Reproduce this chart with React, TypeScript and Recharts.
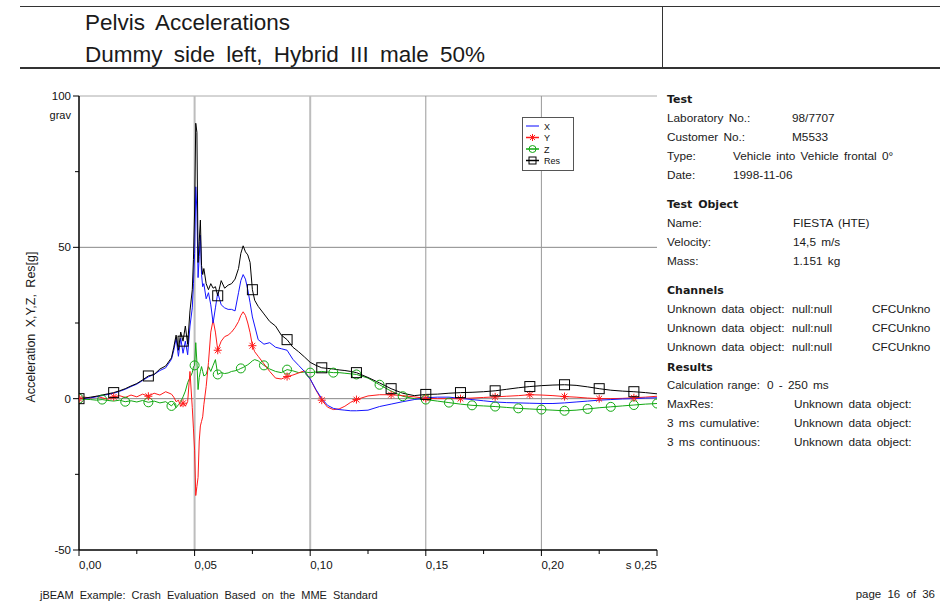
import React from 'react';
import { LineChart, Line, XAxis, YAxis, ReferenceLine, Legend } from 'recharts';

// time base in seconds, finer around the impact spike
const timeS = [
  0, 0.0025, 0.005, 0.0075, 0.01, 0.0125, 0.015, 0.0175, 0.02, 0.0225, 0.025, 0.0275, 0.03, 0.0325, 0.035, 0.0375, 0.04,
  0.041, 0.042, 0.043, 0.044, 0.045, 0.046, 0.047, 0.048, 0.049, 0.0495,
  0.05, 0.0505, 0.051, 0.0515, 0.052, 0.0525, 0.053, 0.0535, 0.054, 0.055,
  0.056, 0.057, 0.058, 0.059, 0.06, 0.0615, 0.063, 0.0645, 0.066, 0.0675,
  0.069, 0.07, 0.071, 0.072, 0.073, 0.074, 0.075, 0.076, 0.0775, 0.08,
  0.0825, 0.085, 0.0875, 0.09, 0.0925, 0.095, 0.0975, 0.1, 0.1025, 0.105,
  0.1075, 0.11, 0.1125, 0.115, 0.1175, 0.12,
  0.125, 0.13, 0.135, 0.14, 0.145, 0.15, 0.155, 0.16, 0.165, 0.17,
  0.175, 0.18, 0.185, 0.19, 0.195, 0.2, 0.205, 0.21, 0.215, 0.22,
  0.225, 0.23, 0.235, 0.24, 0.245, 0.25,
];

const accX = [
  0, 0.1, 0.3, 0.6, 1.0, 1.4, 1.8, 2.4, 3.1, 4.0, 4.8, 6.0, 7.2, 8.0, 9.3, 10.2, 13,
  16, 20, 14, 20, 15, 19, 14.5, 24, 30, 38,
  48, 70, 62, 40, 47, 54, 41, 37, 38, 33,
  35, 31, 25, 30, 35, 31, 30, 29.5, 29.5, 29,
  35, 39, 41, 39.5, 36, 31.7, 27, 24, 19.5, 18,
  18.5, 17, 16.5, 16, 13, 11, 9, 6.5, 3, 0,
  -2.2, -3.2, -3.6, -3.8, -4, -4,
  -3.8, -2.6, -1.8, -1.0, -0.3, 0.3, 0.5, 0.5, 0.1, -0.3,
  -0.7, -1.1, -1.3, -1.4, -1.5, -1.6, -1.6, -1.4, -1.1, -0.8,
  -0.5, -0.3, -0.1, 0, 0.2, 0.3,
];

const accY = [
  0, 0.5, 0.2, 0.8, 0.3, -0.2, 0.6, 1.0, 0.4, 1.2, 0.6, 1.5, 0.8, 1.8, 1.2, 2.3, 1.5,
  0.5, -1, -0.5, -2.6, -1.5, -2.5, -1, 9, -3, -10,
  -17, -32, -29, -26, -14, -9, -7.5, -6, -2, 4,
  12, 22, 26, 22, 16, 19, 20.5, 21, 22, 23.5,
  25.5, 27.5, 28.7, 27.5, 25, 21.8, 17.5, 15.5, 14, 11.5,
  9, 6.8, 6.5, 7.3, 7.8, 8.5, 9.2, 6.5, 2.8, -0.5,
  -2.8, -3.6, -3.4, -2.5, -1.2, -0.3,
  0.9, 1.3, 1.3, 1.0, 0.6, 0.1, 0, 0, 0, 0.2,
  0.4, 0.6, 0.8, 1.0, 1.3, 1.2, 1.0, 0.7, 0.5, 0.2,
  0, 0, 0.1, 0.3, 0.5, 0.8,
];

const accZ = [
  0, -0.2, -0.3, -0.5, -0.3, -0.6, -0.8, -0.5, -1.0, -0.7, -1.1, -0.6, -1.2, -0.8, -1.4, -1.0, -2.4,
  -1.5, -3, -2, -1, 0.6, 2.5, 5.3, 7, 8.6, 10.5,
  11, 18.5, 12, 3, 7, 9, 10.6, 9, 7.5, 8,
  10.6, 9, 11, 12.9, 8, 8.6, 8.3, 8.5, 9, 9.2,
  9.6, 10, 10.3, 10.8, 11.2, 11.8, 12.5, 12.9, 12.5, 11,
  9.8, 9, 8.6, 9.6, 9.2, 8.6, 8.8, 8.6, 8.8, 9.0,
  8.8, 8.6, 8.6, 8.4, 8.2, 8.0,
  6.8, 4.6, 2.5, 0.8, 0, -0.3, -0.8, -1.3, -1.8, -2.2,
  -2.4, -2.6, -2.9, -3.2, -3.4, -3.6, -3.8, -4.0, -3.8, -3.4,
  -3.0, -2.7, -2.4, -2.1, -1.8, -1.6,
];

const accRes = [
  0, 0.2, 0.5, 0.8, 1.2, 1.6, 2.0, 2.6, 3.3, 4.2, 5.0, 6.2, 7.5, 8.0, 9.8, 10.8, 13.5,
  17, 21, 16, 22, 19, 24, 18, 29, 36, 46,
  62, 91, 88, 45, 52, 59, 44, 41, 43, 38,
  36, 38, 36.5, 37, 34, 39, 36.5, 37.5, 38, 39.5,
  43, 48, 50.5, 48.5, 47.5, 45, 36, 32.5, 30.5, 28,
  25.5, 24, 21, 19.5, 17, 15.5, 13.8, 12, 11, 10.2,
  10, 9.8, 9.5, 9.3, 9, 8.6,
  7, 5.2, 3.3, 1.8, 1.0, 1.4, 1.5, 1.8, 2.0, 2.1,
  2.3, 2.6, 3.1, 3.6, 4.0, 4.3, 4.5, 4.6, 4.4, 3.9,
  3.3, 2.8, 2.5, 2.3, 2.0, 1.6,
];

const xTicks = [0, 0.025, 0.05, 0.075, 0.1, 0.125, 0.15, 0.175, 0.2, 0.225, 0.25];
const xLabels = ['0,00', '', '0,05', '', '0,10', '', '0,15', '', '0,20', '', 's 0,25'];
const yTicks = [-50, -25, 0, 25, 50, 75, 100];
const yLabels = ['-50', '', '0', '', '50', '', '100'];

const data = timeS.map((t, i) => ({
  t,
  x: accX[i],
  y: accY[i],
  z: accZ[i],
  res: accRes[i],
}));

const BLUE = '#1515ff';
const RED = '#ff1a1a';
const GREEN = '#12a812';
const BLACK = '#000';
const FONT = '"Liberation Sans", Arial, sans-serif';
const NARROW = '"Liberation Sans Narrow", "Arial Narrow", sans-serif';
const HEAD = '"DejaVu Sans", Verdana, sans-serif';

const onStep = (t: number, step: number) => Math.abs(t / step - Math.round(t / step)) < 1e-6;

function Star({ cx, cy, r = 4, color }: any) {
  const d = r * 0.72;
  return (
    <g stroke={color} strokeWidth={1}>
      <line x1={cx - r} y1={cy} x2={cx + r} y2={cy} />
      <line x1={cx} y1={cy - r} x2={cx} y2={cy + r} />
      <line x1={cx - d} y1={cy - d} x2={cx + d} y2={cy + d} />
      <line x1={cx - d} y1={cy + d} x2={cx + d} y2={cy - d} />
    </g>
  );
}

const markerDot = (kind: string, step: number) => (props: any) => {
  const { cx, cy, payload, index } = props;
  if (cx == null || cy == null || !onStep(payload.t, step)) return <g key={index} />;
  if (kind === 'star') return <g key={index}><Star cx={cx} cy={cy} color={RED} /></g>;
  if (kind === 'circle')
    return <circle key={index} cx={cx} cy={cy} r={4.5} fill="none" stroke={GREEN} strokeWidth={1} />;
  return <rect key={index} x={cx - 5} y={cy - 5} width={10} height={10} fill="none" stroke={BLACK} strokeWidth={1} />;
};

function XTick({ x, y, index }: any) {
  const label = xLabels[index] ?? '';
  const last = index === xTicks.length - 1;
  return (
    <g>
      <line x1={x} x2={x} y1={y} y2={y + (label ? 6 : 4)} stroke="#000" />
      <text x={x} y={y + 19} textAnchor={last ? 'end' : 'start'} fontSize={11.5} fontFamily={FONT} fill="#111">
        {label}
      </text>
    </g>
  );
}

function YTick({ x, y, index }: any) {
  const label = yLabels[index] ?? '';
  return (
    <g>
      <line x1={x - (label ? 6 : 4)} x2={x} y1={y} y2={y} stroke="#000" />
      <text x={x - 8} y={y + 4} textAnchor="end" fontSize={11.5} fontFamily={FONT} fill="#111">
        {label}
      </text>
      {label === '100' && (
        <text x={x - 8} y={y + 23} textAnchor="end" fontSize={11} fontFamily={FONT} fill="#111">
          grav
        </text>
      )}
    </g>
  );
}

function LegendBox() {
  const rows = [
    { name: 'X', color: '#5a5aff', mark: 'line' },
    { name: 'Y', color: RED, mark: 'star' },
    { name: 'Z', color: GREEN, mark: 'circle' },
    { name: 'Res', color: BLACK, mark: 'square' },
  ];
  return (
    <svg width={52} height={54} style={{ display: 'block' }}>
      <rect x={0.5} y={0.5} width={51} height={53} fill="#fff" stroke="#555" />
      {rows.map((r, i) => {
        const cy = 9 + i * 11.5;
        return (
          <g key={r.name}>
            <line x1={4} x2={17} y1={cy} y2={cy} stroke={r.color} strokeWidth={1.5} />
            {r.mark === 'star' && <Star cx={10.5} cy={cy} r={3.5} color={r.color} />}
            {r.mark === 'circle' && <circle cx={10.5} cy={cy} r={3.5} fill="none" stroke={r.color} />}
            {r.mark === 'square' && <rect x={7} y={cy - 3.5} width={7} height={7} fill="none" stroke={r.color} />}
            <text x={22} y={cy + 3.5} fontSize={9} fontFamily={FONT} fill="#111">
              {r.name}
            </text>
          </g>
        );
      })}
    </svg>
  );
}

function T({ x, y, children, size = 11.8, bold = false, family = FONT, ws = 2 }: any) {
  return (
    <div
      style={{
        position: 'absolute',
        left: x,
        top: y,
        transform: 'translateY(-50%)',
        lineHeight: 1,
        whiteSpace: 'pre',
        fontSize: size,
        fontWeight: bold ? 700 : 400,
        fontFamily: family,
        wordSpacing: ws,
        color: '#1a1a1a',
      }}
    >
      {children}
    </div>
  );
}

export default function App() {
  return (
    <div style={{ position: 'absolute', left: 0, top: 0, width: 940, height: 602, background: '#fff', overflow: 'hidden' }}>
      {/* header frame */}
      <div style={{ position: 'absolute', left: 20, top: 6, width: 920, height: 1, background: '#333' }} />
      <div style={{ position: 'absolute', left: 20, top: 67, width: 920, height: 1.5, background: '#333' }} />
      <div style={{ position: 'absolute', left: 662, top: 6, width: 1, height: 62, background: '#333' }} />
      <T x={85} y={23} size={22.5} ws={5}>Pelvis Accelerations</T>
      <T x={85} y={55} size={22.5} ws={5}>Dummy side left, Hybrid III male 50%</T>

      <div style={{ position: 'absolute', left: 0, top: 0 }}>
        <LineChart width={680} height={602} data={data} margin={{ top: 96, right: 23, bottom: 22, left: 19 }}>
          <XAxis
            dataKey="t"
            type="number"
            domain={[0, 0.25]}
            ticks={xTicks}
            interval={0}
            height={30}
            tickSize={0}
            tickMargin={0}
            tickLine={false}
            axisLine={{ stroke: '#000', strokeWidth: 1.5 }}
            tick={<XTick />}
            allowDataOverflow
          />
          <YAxis
            type="number"
            domain={[-50, 100]}
            ticks={yTicks}
            interval={0}
            width={60}
            tickSize={0}
            tickMargin={0}
            tickLine={false}
            axisLine={{ stroke: '#000', strokeWidth: 1.5 }}
            tick={<YTick />}
            allowDataOverflow
          />
          <ReferenceLine y={100} stroke="#aaa" />
          <ReferenceLine y={50} stroke="#888" />
          <ReferenceLine y={0} stroke="#888" />
          <ReferenceLine x={0.05} stroke="#bdbdbd" strokeWidth={2} />
          <ReferenceLine x={0.1} stroke="#bdbdbd" strokeWidth={2} />
          <ReferenceLine x={0.15} stroke="#999" />
          <ReferenceLine x={0.2} stroke="#999" />
          <Legend
            layout="vertical"
            align="center"
            verticalAlign="middle"
            wrapperStyle={{ left: 522, top: 117, width: 52, height: 54 }}
            content={<LegendBox />}
          />
          <Line dataKey="z" name="Z" stroke={GREEN} strokeWidth={1} dot={markerDot('circle', 0.01)} activeDot={false} isAnimationActive={false} type="linear" />
          <Line dataKey="y" name="Y" stroke={RED} strokeWidth={1} dot={markerDot('star', 0.015)} activeDot={false} isAnimationActive={false} type="linear" />
          <Line dataKey="x" name="X" stroke={BLUE} strokeWidth={1} dot={false} activeDot={false} isAnimationActive={false} type="linear" />
          <Line dataKey="res" name="Res" stroke={BLACK} strokeWidth={1} dot={markerDot('square', 0.015)} activeDot={false} isAnimationActive={false} type="linear" />
        </LineChart>
      </div>

      <div
        style={{
          position: 'absolute',
          left: 31,
          top: 327,
          transform: 'translate(-50%, -50%) rotate(-90deg)',
          fontFamily: FONT,
          fontSize: 12.5,
          whiteSpace: 'pre',
          wordSpacing: 3,
          color: '#1a1a1a',
        }}
      >
        Acceleration X,Y,Z, Res[g]
      </div>

      {/* info panel */}
      <T x={667} y={99} size={11} bold family={HEAD}>Test</T>
      <T x={667} y={119}>Laboratory No.:</T>
      <T x={792} y={119}>98/7707</T>
      <T x={667} y={138}>Customer No.:</T>
      <T x={792} y={138}>M5533</T>
      <T x={667} y={157}>Type:</T>
      <T x={733} y={157}>Vehicle into Vehicle frontal 0°</T>
      <T x={667} y={176}>Date:</T>
      <T x={733} y={176}>1998-11-06</T>

      <T x={667} y={204} size={11} bold family={HEAD}>Test Object</T>
      <T x={667} y={224}>Name:</T>
      <T x={793} y={224}>FIESTA (HTE)</T>
      <T x={667} y={243}>Velocity:</T>
      <T x={793} y={243}>14,5 m/s</T>
      <T x={667} y={262}>Mass:</T>
      <T x={793} y={262}>1.151 kg</T>

      <T x={667} y={290} size={11} bold family={HEAD}>Channels</T>
      {[310, 329, 348].map((y) => (
        <React.Fragment key={y}>
          <T x={667} y={y}>Unknown data object:</T>
          <T x={792} y={y}>null:null</T>
          <T x={872} y={y}>CFCUnkno</T>
        </React.Fragment>
      ))}

      <T x={667} y={367} size={11} bold family={HEAD}>Results</T>
      <T x={667} y={386} size={11.4} ws={1}>Calculation range:</T>
      <T x={767} y={386}>0 - 250 ms</T>
      <T x={667} y={405}>MaxRes:</T>
      <T x={794} y={405}>Unknown data object:</T>
      <T x={667} y={424}>3 ms cumulative:</T>
      <T x={794} y={424}>Unknown data object:</T>
      <T x={667} y={443}>3 ms continuous:</T>
      <T x={794} y={443}>Unknown data object:</T>

      {/* footer */}
      <T x={40} y={595} size={11} family={NARROW} ws={3}>
        jBEAM Example: Crash Evaluation Based on the MME Standard
      </T>
      <div
        style={{
          position: 'absolute',
          right: 5,
          top: 595,
          transform: 'translateY(-50%)',
          lineHeight: 1,
          whiteSpace: 'pre',
          fontSize: 11.5,
          fontFamily: NARROW,
          wordSpacing: 3,
          color: '#1a1a1a',
        }}
      >
        page 16 of 36
      </div>
    </div>
  );
}
